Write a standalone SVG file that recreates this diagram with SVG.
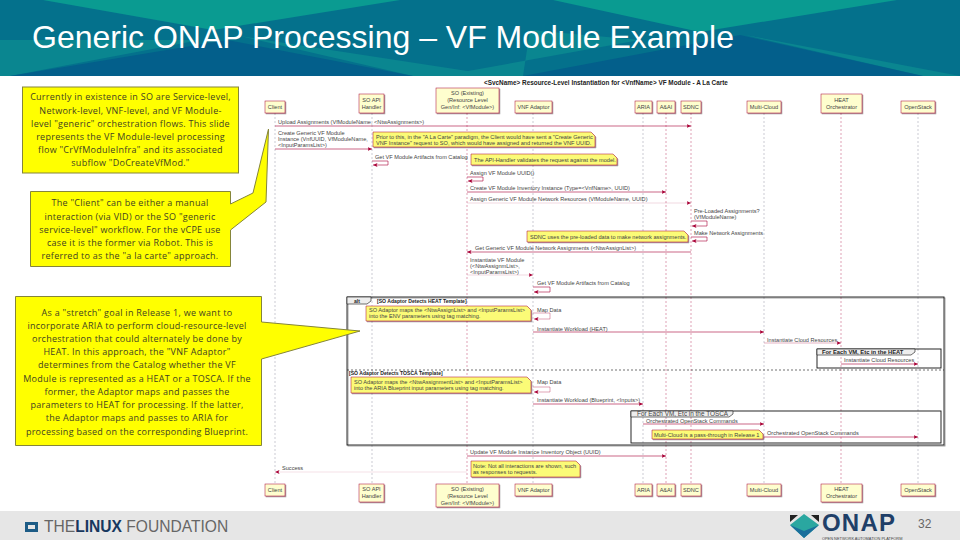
<svg xmlns="http://www.w3.org/2000/svg" width="960" height="540" viewBox="0 0 960 540">
<style>
.t{font-family:"Liberation Sans",Arial,sans-serif}
.call{fill:#ffff00;stroke:#85853a;stroke-width:1}
.ct{font-family:"Open Sans","Liberation Sans",sans-serif;font-size:9px;letter-spacing:.27px;fill:#3f3f22;text-anchor:middle}
.pb{fill:#fefece;stroke:#a80036;stroke-width:.5;filter:url(#sh)}
.pt{font-family:"Liberation Sans",sans-serif;font-size:5.6px;fill:#444;text-anchor:middle}
.m{font-family:"Liberation Sans",sans-serif;font-size:5.6px;fill:#444}
.b{font-weight:bold;fill:#222;font-size:5.1px}
.ll{stroke:#a80036;stroke-width:.5;stroke-dasharray:2 2;fill:none;opacity:.75}
.lg{stroke:#a9a9b5;stroke-width:.6;stroke-dasharray:2 2;fill:none}
.a{stroke:#a80036;stroke-width:.6;fill:none;marker-end:url(#ah)}
.n{fill:#fbfb77;stroke:#a80036;stroke-width:.5;filter:url(#sh)}
.f{fill:none;stroke:#111;stroke-width:.9}
.tab{fill:#eee;stroke:#111;stroke-width:.6}
</style>
<defs>
<filter id="sh" x="-10%" y="-10%" width="125%" height="130%"><feDropShadow dx="1" dy="1" stdDeviation=".6" flood-color="#000" flood-opacity=".4"/></filter>
<marker id="ah" markerWidth="5" markerHeight="4" refX="4.5" refY="2" orient="auto" markerUnits="userSpaceOnUse"><path d="M0 0L4.5 2L0 4L1 2Z" fill="#a80036"/></marker>
</defs>
<rect width="960" height="540" fill="#fff"/>
<g id="banner">
<rect width="960" height="76" fill="#04718c"/>
<path d="M0 40L200 40L10 76H0Z M240 36L500 76H413Z M530 30L523 76H500L440 76L640 40Z M745 35L960 76H923Z" fill="#0a8690"/>
<path d="M43 0H400L213 30Z M553 0H897L700 32Z" fill="#0a9b91"/>
<path d="M10 76L227 40L413 76Z M523 76L740 35L923 76Z" fill="#035f8b"/>
<text class="t" x="32" y="48" font-size="32" fill="#fff">Generic ONAP Processing – VF Module Example</text>
</g>
<g id="footer">
<rect y="511" width="960" height="29" fill="#e6e6e6"/>
<path d="M25 522H38V532H25Z M28 525V529H35V525Z" fill="#1d5c86" fill-rule="evenodd"/>
<text class="t" x="44" y="532" font-size="15.6" fill="#666">THE<tspan font-weight="bold" fill="#17375e">LINUX</tspan> FOUNDATION</text>
<path d="M790 525L804 514L819 525L804 538Z" fill="#2aa7a0"/>
<path d="M790 525L804 531L819 525L804 538Z" fill="#1a6f9c"/>
<path d="M790 515H798L790 522Z M819 515H811L819 522Z" fill="#222"/>
<text class="t" x="822" y="531" font-size="24" letter-spacing="1.2" font-weight="bold" fill="#1f3f68">ONAP</text>
<text class="t" x="822" y="539.500" font-size="3.900" fill="#444">OPEN NETWORK AUTOMATION PLATFORM</text>
<text class="t" x="918" y="528" font-size="12" fill="#666">32</text>
</g>
<g id="title-diagram"><text class="m b" x="484" y="84.500" style="font-size:6.4px">&lt;SvcName&gt; Resource-Level Instantiation for &lt;VnfName&gt; VF Module - A La Carte</text></g>
<g id="lifelines">
<path class="lg" d="M275 113V484"/><path class="lg" d="M372 113V484"/><path class="ll" d="M467 113V484"/><path class="lg" d="M533 113V484"/><path class="lg" d="M643 113V484"/><path class="ll" d="M666 113V484"/><path class="ll" d="M691 113V484"/><path class="lg" d="M764 113V484"/><path class="ll" d="M841 113V484"/><path class="lg" d="M918 113V484"/>
</g>
<g id="frames">
<rect class="f" x="347" y="297" width="597" height="148" filter="url(#sh)"/>
<path class="tab" d="M347 297H371V301L367 304H347Z"/>
<text class="m b" x="354" y="302.500">alt</text>
<text class="m b" x="377" y="302.500">[SO Adaptor Detects HEAT Template]</text>
<path d="M347 370H944" stroke="#111" stroke-width=".6" stroke-dasharray="2 2" fill="none"/>
<text class="m b" x="349" y="374.500">[SO Adaptor Detects TOSCA Template]</text>
<rect class="f" x="817" y="349" width="124" height="19"/>
<path class="tab" d="M817 349H915V352L911 355H817Z"/>
<text class="m b" x="822" y="354" style="font-size:5.800px">For Each VM, Etc in the HEAT</text>
<rect class="f" x="631" y="411" width="310" height="32"/>
<path class="tab" d="M631 411H733V414L729 417H631Z"/>
<text class="m" x="637" y="416" style="font-size:6.400px">For Each VM, Etc in the TOSCA</text>
</g>
<g id="connectors">
<path class="a" d="M275 126H691"/>
<path class="a" d="M275 149H372"/>
<path class="a" d="M372 161H388V165H373"/>
<path class="a" d="M467 177H483V181H468"/>
<path class="a" d="M467 192H666"/>
<path class="a" d="M467 203H691" style="stroke-opacity:.25"/>
<path class="a" d="M691 221H707V226H692"/>
<path class="a" d="M691 237H707V241H692"/>
<path class="a" d="M691 252H467"/>
<path class="a" d="M467 275H533" style="stroke-opacity:.25"/>
<path class="a" d="M533 287H550V292H534"/>
<path class="a" d="M533 313H550V319H534" style="stroke-opacity:.6"/>
<path class="a" d="M533 332H764"/>
<path class="a" d="M764 343H841" style="stroke-opacity:.5"/>
<path class="a" d="M841 364H918"/>
<path class="a" d="M533 387H550V392H534" style="stroke-opacity:.6"/>
<path class="a" d="M533 404H643"/>
<path class="a" d="M643 424H764"/>
<path class="a" d="M764 437H918"/>
<path class="a" d="M467 456H666"/>
<path class="a" d="M467 472H275" style="stroke-opacity:.2"/>
</g>
<g id="client" ><rect class="pb" x="265" y="101" width="20" height="12"/><text class="pt" x="275" y="109">Client</text><rect class="pb" x="265" y="484" width="20" height="12"/><text class="pt" x="275" y="492">Client</text></g>
<g id="so-api"><rect class="pb" x="359" y="94" width="25" height="19"/><text class="pt" x="371.500" y="102">SO API</text><text class="pt" x="371.500" y="109">Handler</text><rect class="pb" x="359" y="484" width="25" height="18"/><text class="pt" x="371.500" y="491">SO API</text><text class="pt" x="371.500" y="498">Handler</text></g>
<g id="so-existing"><rect class="pb" x="436" y="88" width="63" height="25"/><text class="pt" x="467.500" y="95">SO (Existing)</text><text class="pt" x="467.500" y="102">(Resource Level</text><text class="pt" x="467.500" y="109">Gen/Inf: &lt;VfModule&gt;)</text><rect class="pb" x="436" y="484" width="63" height="23"/><text class="pt" x="467.500" y="491">SO (Existing)</text><text class="pt" x="467.500" y="498">(Resource Level</text><text class="pt" x="467.500" y="505">Gen/Inf: &lt;VfModule&gt;)</text></g>
<g id="vnf-adaptor"><rect class="pb" x="515" y="101" width="37" height="12"/><text class="pt" x="533.500" y="109">VNF Adaptor</text><rect class="pb" x="515" y="484" width="37" height="12"/><text class="pt" x="533.500" y="491.500">VNF Adaptor</text></g>
<g id="aria"><rect class="pb" x="635" y="101" width="17" height="12"/><text class="pt" x="643.500" y="109">ARIA</text><rect class="pb" x="635" y="484" width="17" height="12"/><text class="pt" x="643.500" y="491.500">ARIA</text></g>
<g id="aai"><rect class="pb" x="657" y="101" width="18" height="12"/><text class="pt" x="666" y="109">A&amp;AI</text><rect class="pb" x="657" y="484" width="18" height="12"/><text class="pt" x="666" y="491.500">A&amp;AI</text></g>
<g id="sdnc"><rect class="pb" x="681" y="101" width="20" height="12"/><text class="pt" x="691" y="109">SDNC</text><rect class="pb" x="681" y="484" width="20" height="12"/><text class="pt" x="691" y="491.500">SDNC</text></g>
<g id="multi-cloud"><rect class="pb" x="747" y="101" width="34" height="12"/><text class="pt" x="764" y="109">Multi-Cloud</text><rect class="pb" x="747" y="484" width="34" height="12"/><text class="pt" x="764" y="491.500">Multi-Cloud</text></g>
<g id="heat"><rect class="pb" x="821" y="94" width="41" height="19"/><text class="pt" x="841.500" y="102">HEAT</text><text class="pt" x="841.500" y="109">Orchestrator</text><rect class="pb" x="821" y="484" width="41" height="18"/><text class="pt" x="841.500" y="491">HEAT</text><text class="pt" x="841.500" y="498">Orchestrator</text></g>
<g id="openstack"><rect class="pb" x="901" y="101" width="34" height="12"/><text class="pt" x="918" y="109">OpenStack</text><rect class="pb" x="901" y="484" width="34" height="12"/><text class="pt" x="918" y="491.500">OpenStack</text></g>
<g id="notes">
<path class="n" d="M373 132H591L595 136V147H373Z"/>
<text class="m" x="376" y="139">Prior to this, in the "A La Carte" paradigm, the Client would have sent a "Create Generic</text>
<text class="m" x="376" y="145">VNF Instance" request to SO, which would have assigned and returned the VNF UUID.</text>
<path class="n" d="M471 154H613L617 158V165H471Z"/>
<text class="m" x="474" y="161.500">The API-Handler validates the request against the model.</text>
<path class="n" d="M527 231H684L688 235V242H527Z"/>
<text class="m" x="530" y="238.500">SDNC uses the pre-loaded data to make network assignments.</text>
<path class="n" d="M366 306H527L531 310V321H366Z"/>
<text class="m" x="369" y="312">SO Adaptor maps the &lt;NtwAssignList&gt; and &lt;InputParamsList&gt;</text>
<text class="m" x="369" y="318">into the ENV parameters using tag matching.</text>
<path class="n" d="M351 377H527L531 381V393H351Z"/>
<text class="m" x="354" y="383.500">SO Adaptor maps the &lt;NtwAssignmentList&gt; and &lt;InputParamsList&gt;</text>
<text class="m" x="354" y="390">into the ARIA Blueprint input parameters using tag matching.</text>
<path class="n" d="M652 430H759L763 434V439H652Z"/>
<text class="m" x="654" y="436.500">Multi-Cloud is a pass-through in Release 1</text>
<path class="n" d="M471 461H576L580 465V477H471Z"/>
<text class="m" x="473" y="468">Note: Not all interactions are shown, such</text>
<text class="m" x="473" y="474">as responses to requests.</text>
</g>
<g id="labels">
<text class="m" x="278" y="124">Upload Assignments (VfModuleName, &lt;NtwAssignments&gt;)</text>
<text class="m" x="278" y="135">Create Generic VF Module</text>
<text class="m" x="278" y="141">Instance (VnfUUID, VfModuleName,</text>
<text class="m" x="278" y="147">&lt;InputParamsList&gt;)</text>
<text class="m" x="375" y="159">Get VF Module Artifacts from Catalog</text>
<text class="m" x="470" y="175">Assign VF Module UUID()</text>
<text class="m" x="470" y="190">Create VF Module Inventory Instance (Type=&lt;VnfName&gt;, UUID)</text>
<text class="m" x="470" y="201">Assign Generic VF Module Network Resources (VfModuleName, UUID)</text>
<text class="m" x="694" y="213">Pre-Loaded Assignments?</text>
<text class="m" x="694" y="219">(VfModuleName)</text>
<text class="m" x="694" y="235">Make Network Assignments</text>
<text class="m" x="475" y="250">Get Generic VF Module Network Assignments (&lt;NtwAssignList&gt;)</text>
<text class="m" x="470" y="262">Instantiate VF Module</text>
<text class="m" x="470" y="268">(&lt;NtwAssignmList&gt;,</text>
<text class="m" x="470" y="274">&lt;InputParamsList&gt;)</text>
<text class="m" x="537" y="285">Get VF Module Artifacts from Catalog</text>
<text class="m" x="537" y="312">Map Data</text>
<text class="m" x="537" y="331">Instantiate Workload (HEAT)</text>
<text class="m" x="767" y="342">Instantiate Cloud Resources</text>
<text class="m" x="844" y="362">Instantiate Cloud Resources</text>
<text class="m" x="537" y="384">Map Data</text>
<text class="m" x="537" y="402">Instantiate Workload (Blueprint, &lt;Inputs&gt;)</text>
<text class="m" x="646" y="423">Orchestrated OpenStack Commands</text>
<text class="m" x="767" y="435">Orchestrated OpenStack Commands</text>
<text class="m" x="470" y="454">Update VF Module Instance Inventory Object (UUID)</text>
<text class="m" x="282" y="470">Success</text>
</g>
<g id="callout-1">
<rect class="call" x="22.500" y="87" width="216" height="86"/>
<text class="ct"><tspan x="130.500" y="100">Currently in existence in SO are Service-level,</tspan><tspan x="130.500" y="114">Network-level, VNF-level, and VF Module-</tspan><tspan x="130.500" y="127">level "generic" orchestration flows.  This slide</tspan><tspan x="130.500" y="140">represents the VF Module-level processing</tspan><tspan x="130.500" y="153">flow "CrVfModuleInfra" and its associated</tspan><tspan x="130.500" y="166">subflow "DoCreateVfMod."</tspan></text>
</g>
<g id="callout-2">
<path class="call" d="M30.500 191.500H230.500V204L253 193L268.500 129L266 202L230.500 230V266.500H30.500Z"/>
<text class="ct"><tspan x="130" y="206">The "Client" can be either a manual</tspan><tspan x="130" y="220">interaction (via VID) or the SO "generic</tspan><tspan x="130" y="233">service-level" workflow.  For the vCPE use</tspan><tspan x="130" y="246">case it is the former via Robot.  This is</tspan><tspan x="130" y="259">referred to as the "a la carte" approach.</tspan></text>
</g>
<g id="callout-3">
<path class="call" d="M15.500 296.500H261.500V322L360 331L261.500 359V445.500H15.500Z"/>
<text class="ct"><tspan x="137" y="316">As a "stretch" goal in Release 1, we want to</tspan><tspan x="137" y="329">incorporate ARIA to perform cloud-resource-level</tspan><tspan x="137" y="342">orchestration that could alternately be done by</tspan><tspan x="137" y="355">HEAT.  In this approach, the "VNF Adaptor"</tspan><tspan x="137" y="368">determines from the Catalog whether the VF</tspan><tspan x="137" y="382">Module is represented as a HEAT or a TOSCA.  If the</tspan><tspan x="137" y="395">former, the Adaptor maps and passes the</tspan><tspan x="137" y="408">parameters to HEAT for processing.  If the latter,</tspan><tspan x="137" y="421">the Adaptor maps and passes to ARIA for</tspan><tspan x="137" y="435">processing based on the corresponding Blueprint.</tspan></text>
</g>
</svg>
